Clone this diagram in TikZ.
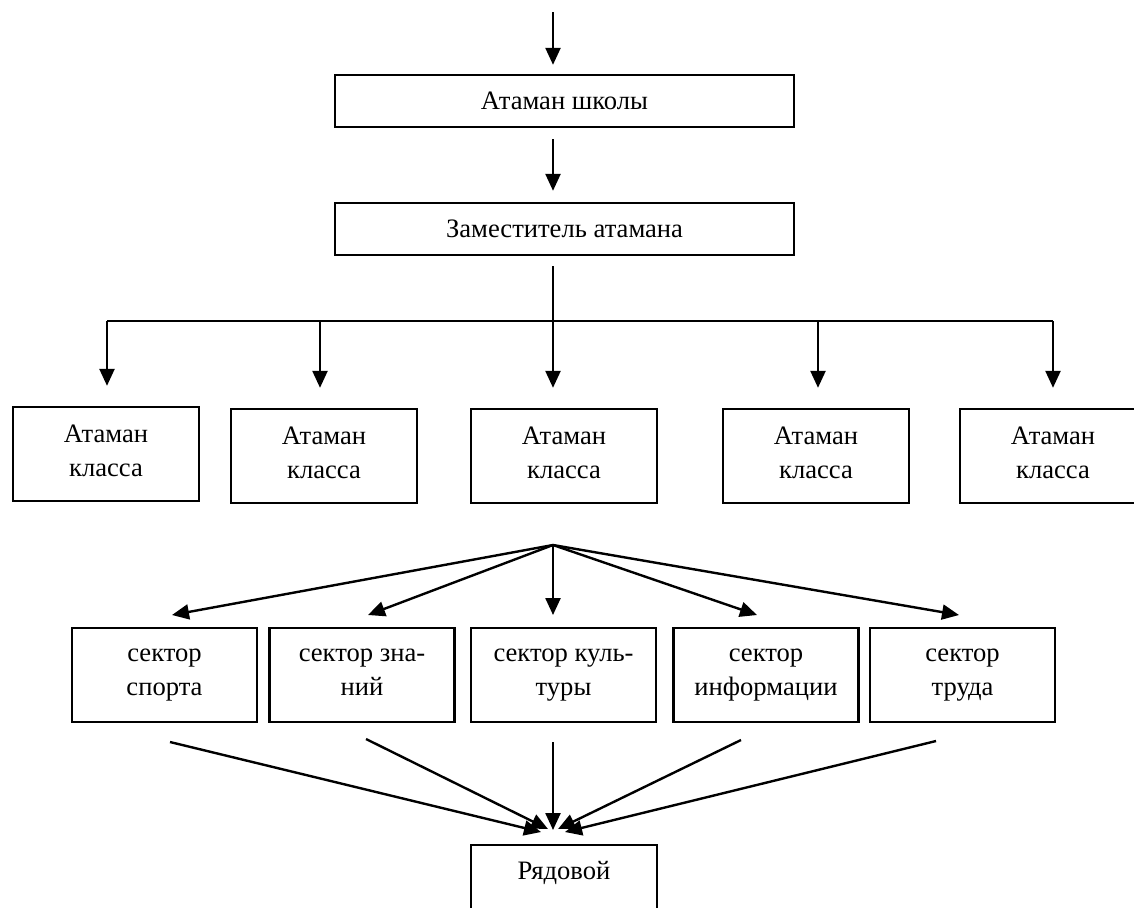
\documentclass[tikz,border=0pt]{standalone}
\usepackage{fontspec}
\setmainfont{Liberation Serif}
\usetikzlibrary{arrows.meta}
\tikzstyle{wide}=[draw, line width=1.2pt, minimum width=229.5pt, minimum height=26pt]
\tikzstyle{cls}=[draw, line width=1.2pt, minimum width=93pt, minimum height=47pt, align=center, execute at begin node=\strut, text depth=3pt]
\tikzstyle{sec}=[draw, line width=1.2pt, minimum width=92.5pt, minimum height=47pt, align=center, execute at begin node=\strut, text depth=3pt]
\tikzstyle{ln}=[line width=1.2pt]

\begin{document}
\begin{tikzpicture}[x=0.5pt,y=-0.5pt,>={Triangle[length=8.5pt,width=7.5pt]},font=\fontsize{13.3pt}{17pt}\selectfont]
\clip (0,0) rectangle (1134,907);

\coordinate (in) at (553,12);
\node[wide] at (564.5,101) (ataman) {Атаман школы};
\node[wide] at (564.5,229) (zam) {Заместитель атамана};
\draw[->,ln,shorten >=4.5pt] (in) -- (in |- ataman.north);
\draw[->,ln,shorten <=5.5pt,shorten >=5.5pt] (ataman.south -| in) -- (zam.north -| in);

% bus to the class atamans
\coordinate (split) at (553,321);
\coordinate (busl) at (107,321);
\coordinate (busr) at (1053,321);
\draw[ln,shorten <=5pt] (zam.south -| split) -- (split);
\draw[ln] (busl) -- (busr);

\node[cls] at (106,454) (kl1) {Атаман\\класса};
\node[cls] at (324,456) (kl2) {Атаман\\класса};
\node[cls] at (564,456) (kl3) {Атаман\\класса};
\node[cls] at (816,456) (kl4) {Атаман\\класса};
\node[cls] at (1053,456) (kl5) {Атаман\\класса};

\foreach \x/\n in {107/1,320/2,553/3,818/4,1053/5}{
  \coordinate (d\n) at (\x,321);
  \draw[->,ln,shorten >=10pt] (d\n) -- (d\n |- kl\n.north);
}

% sectors
\coordinate (fan) at (553,545);
\node[sec] at (164.5,675) (s1) {сектор\\спорта};
\node[sec] at (362,675) (s2) {сектор зна-\\ний};
\node[sec] at (563.5,675) (s3) {сектор куль-\\туры};
\node[sec] at (766,675) (s4) {сектор\\информации};
\node[sec] at (962.5,675) (s5) {сектор\\труда};

\foreach \x/\n in {172/1,368/2,553/3,757/4,959/5}{
  \coordinate (t\n) at (\x,615);
  \draw[->,ln] (fan) -- (t\n);
}

\node[draw,line width=1.2pt,minimum width=93pt,text height=14pt,text depth=30pt,anchor=north] at (564,844) (ryad) {Рядовой};

\coordinate (b1) at (170,742);
\coordinate (b2) at (366,739);
\coordinate (b3) at (553,742);
\coordinate (b4) at (741,740);
\coordinate (b5) at (936,741);
\coordinate (e1) at (541,832);
\coordinate (e2) at (548,829);
\coordinate (e3) at (553,830);
\coordinate (e4) at (558,829);
\coordinate (e5) at (565,832);
\foreach \n in {1,...,5}
  \draw[->,ln] (b\n) -- (e\n);
\end{tikzpicture}
\end{document}
